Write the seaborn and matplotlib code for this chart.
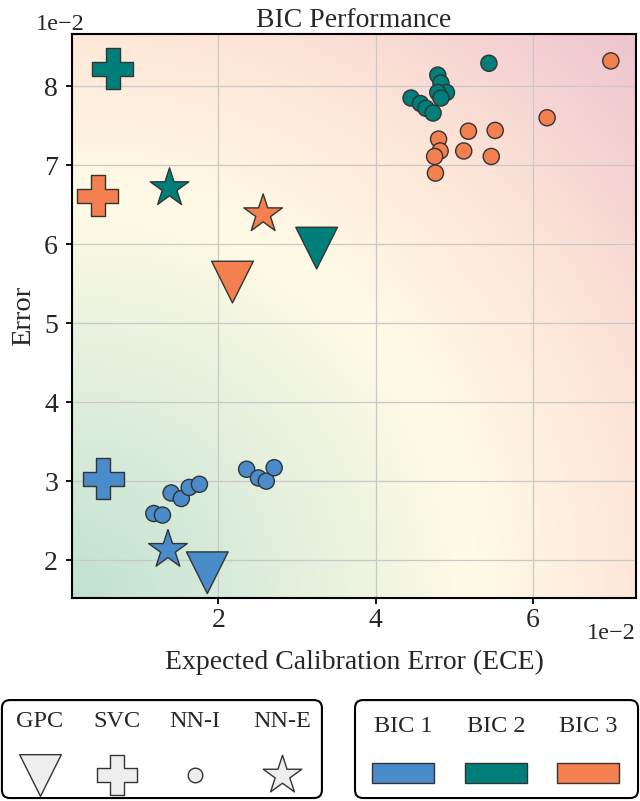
import numpy as np
import pandas as pd
import matplotlib
matplotlib.use('Agg')
import matplotlib.pyplot as plt
import seaborn as sns
from matplotlib.colors import LinearSegmentedColormap
from matplotlib.patches import FancyBboxPatch, Rectangle
from matplotlib.ticker import MultipleLocator

# values, in units of 1e-2
bics = ['BIC 1', 'BIC 2', 'BIC 3']
models = ['GPC', 'SVC', 'NN-I', 'NN-E']

gpc_ece = [1.86, 3.25, 2.18]
gpc_err = [1.84, 5.95, 5.52]
svc_ece = [0.535, 0.66, 0.47]
svc_err = [3.03, 8.22, 6.61]
nne_ece = [1.36, 1.38, 2.57]
nne_err = [2.13, 6.71, 6.38]

nni_ece_1 = [1.18, 1.29, 1.40, 1.53, 1.63, 1.76, 2.36, 2.51, 2.61, 2.71]
nni_err_1 = [2.59, 2.57, 2.85, 2.78, 2.92, 2.96, 3.15, 3.04, 3.00, 3.17]
nni_ece_2 = [5.44, 4.79, 4.83, 4.90, 4.79, 4.83, 4.45, 4.57, 4.64, 4.73]
nni_err_2 = [8.29, 8.14, 8.04, 7.92, 7.92, 7.85, 7.85, 7.78, 7.72, 7.66]
nni_ece_3 = [6.99, 6.18, 5.18, 5.52, 4.80, 4.82, 4.75, 5.12, 5.47, 4.76]
nni_err_3 = [8.32, 7.60, 7.43, 7.44, 7.33, 7.18, 7.11, 7.18, 7.11, 6.90]

colors = {'BIC 1': '#4a8bca', 'BIC 2': '#007f7a', 'BIC 3': '#f4804f'}
markers = {'GPC': 'v', 'SVC': 'P', 'NN-I': 'o', 'NN-E': '*'}
sizes = {'GPC': 900, 'SVC': 870, 'NN-I': 135, 'NN-E': 850}

rows = []
for i, b in enumerate(bics):
    rows.append(('GPC', b, gpc_ece[i], gpc_err[i]))
    rows.append(('SVC', b, svc_ece[i], svc_err[i]))
    rows.append(('NN-E', b, nne_ece[i], nne_err[i]))
for b, xs, ys in [('BIC 1', nni_ece_1, nni_err_1), ('BIC 2', nni_ece_2, nni_err_2),
                  ('BIC 3', nni_ece_3, nni_err_3)]:
    for x, y in zip(xs, ys):
        rows.append(('NN-I', b, x, y))
df = pd.DataFrame(rows, columns=['model', 'bic', 'ece', 'err'])
df['ece'] = df['ece'] * 0.01
df['err'] = df['err'] * 0.01

sns.set_style('white')
plt.rcParams['font.family'] = ['Liberation Serif', 'DejaVu Serif']

fig = plt.figure(figsize=(6.4, 8.01), dpi=100)
ax = fig.add_axes([0.1125, 0.2534, 0.88125, 0.7041])

xlim = (0.0014, 0.0731)
ylim = (0.0152, 0.0866)

# background gradient, radial from the lower left corner
bg = LinearSegmentedColormap.from_list('bg', [(0, '#c0e1d2'), (0.5, '#fffbe6'),
                                              (0.72, '#fde6d8'), (1.0, '#eec4cf')])
u, v = np.meshgrid(np.linspace(0, 1, 300), np.linspace(0, 1, 300))
d = np.sqrt(u ** 2 + v ** 2) / np.sqrt(2)
ax.imshow(d, cmap=bg, origin='lower', extent=[xlim[0], xlim[1], ylim[0], ylim[1]],
          aspect='auto', zorder=0, interpolation='bilinear')

for m in ['GPC', 'SVC', 'NN-E', 'NN-I']:
    sub = df[df['model'] == m]
    sns.scatterplot(data=sub, x='ece', y='err', hue='bic', palette=colors, marker=markers[m],
                    s=sizes[m], edgecolor='#333333', linewidth=1, legend=False, ax=ax, zorder=3)

ax.set_xlim(xlim)
ax.set_ylim(ylim)
ax.xaxis.set_major_locator(MultipleLocator(0.02))
ax.yaxis.set_major_locator(MultipleLocator(0.01))
ax.ticklabel_format(style='sci', scilimits=(0, 0), axis='both')
ax.grid(True, color='#c8c8c8', lw=0.9)
ax.set_axisbelow(True)
for sp in ax.spines.values():
    sp.set_color('black')
    sp.set_linewidth(1.5)
ax.tick_params(direction='out', length=4, width=1.3, labelsize=20,
               bottom=True, left=True, color='black')
ax.tick_params(axis='x', pad=3)
ax.tick_params(axis='y', pad=6)
xoff = ax.xaxis.get_offset_text()
xoff.set_fontsize(17.5)
ax.xaxis.OFFSETTEXTPAD = -7
yoff = ax.yaxis.get_offset_text()
yoff.set_fontsize(17.5)
yoff.set_horizontalalignment('right')
yoff.set_x(0.022)
ax.set_xlabel('Expected Calibration Error (ECE)', fontsize=20, labelpad=12)
ax.set_ylabel('Error', fontsize=20.5, labelpad=6)
ax.set_title('BIC Performance', fontsize=20, pad=5)


def legend_box(rect):
    lax = fig.add_axes(rect)
    lax.set_xlim(0, 1)
    lax.set_ylim(0, 1)
    lax.axis('off')
    w = rect[2] * 640
    h = rect[3] * 801
    box = FancyBboxPatch((0, 0), 1, 1, boxstyle='round,pad=0,rounding_size=%f' % (8 / w),
                         mutation_aspect=w / h, transform=lax.transAxes, fc='white',
                         ec='black', lw=1.5, clip_on=False)
    lax.add_patch(box)
    return lax


lax1 = legend_box([0.003, 0.0037, 0.5, 0.1223])
for m, xp in zip(models, [0.119, 0.359, 0.603, 0.875]):
    lax1.text(xp, 0.78, m, ha='center', va='center', fontsize=17.5)
    s = sizes[m] if m != 'NN-I' else 110
    lax1.scatter([xp], [0.235], marker=markers[m], s=s, color='#eeeeee',
                 edgecolor='#333333', linewidth=1, zorder=3)

lax2 = legend_box([0.5547, 0.0037, 0.4422, 0.1223])
for b, xp in zip(bics, [0.17, 0.498, 0.823]):
    lax2.text(xp, 0.73, b, ha='center', va='center', fontsize=17.5)
    rw = 62 / (0.4422 * 640)
    rh = 20 / (0.1223 * 801)
    lax2.add_patch(Rectangle((xp - rw / 2, 0.255 - rh / 2), rw, rh, fc=colors[b],
                             ec='#333333', lw=1))

fig.savefig('out.png', dpi=100)
